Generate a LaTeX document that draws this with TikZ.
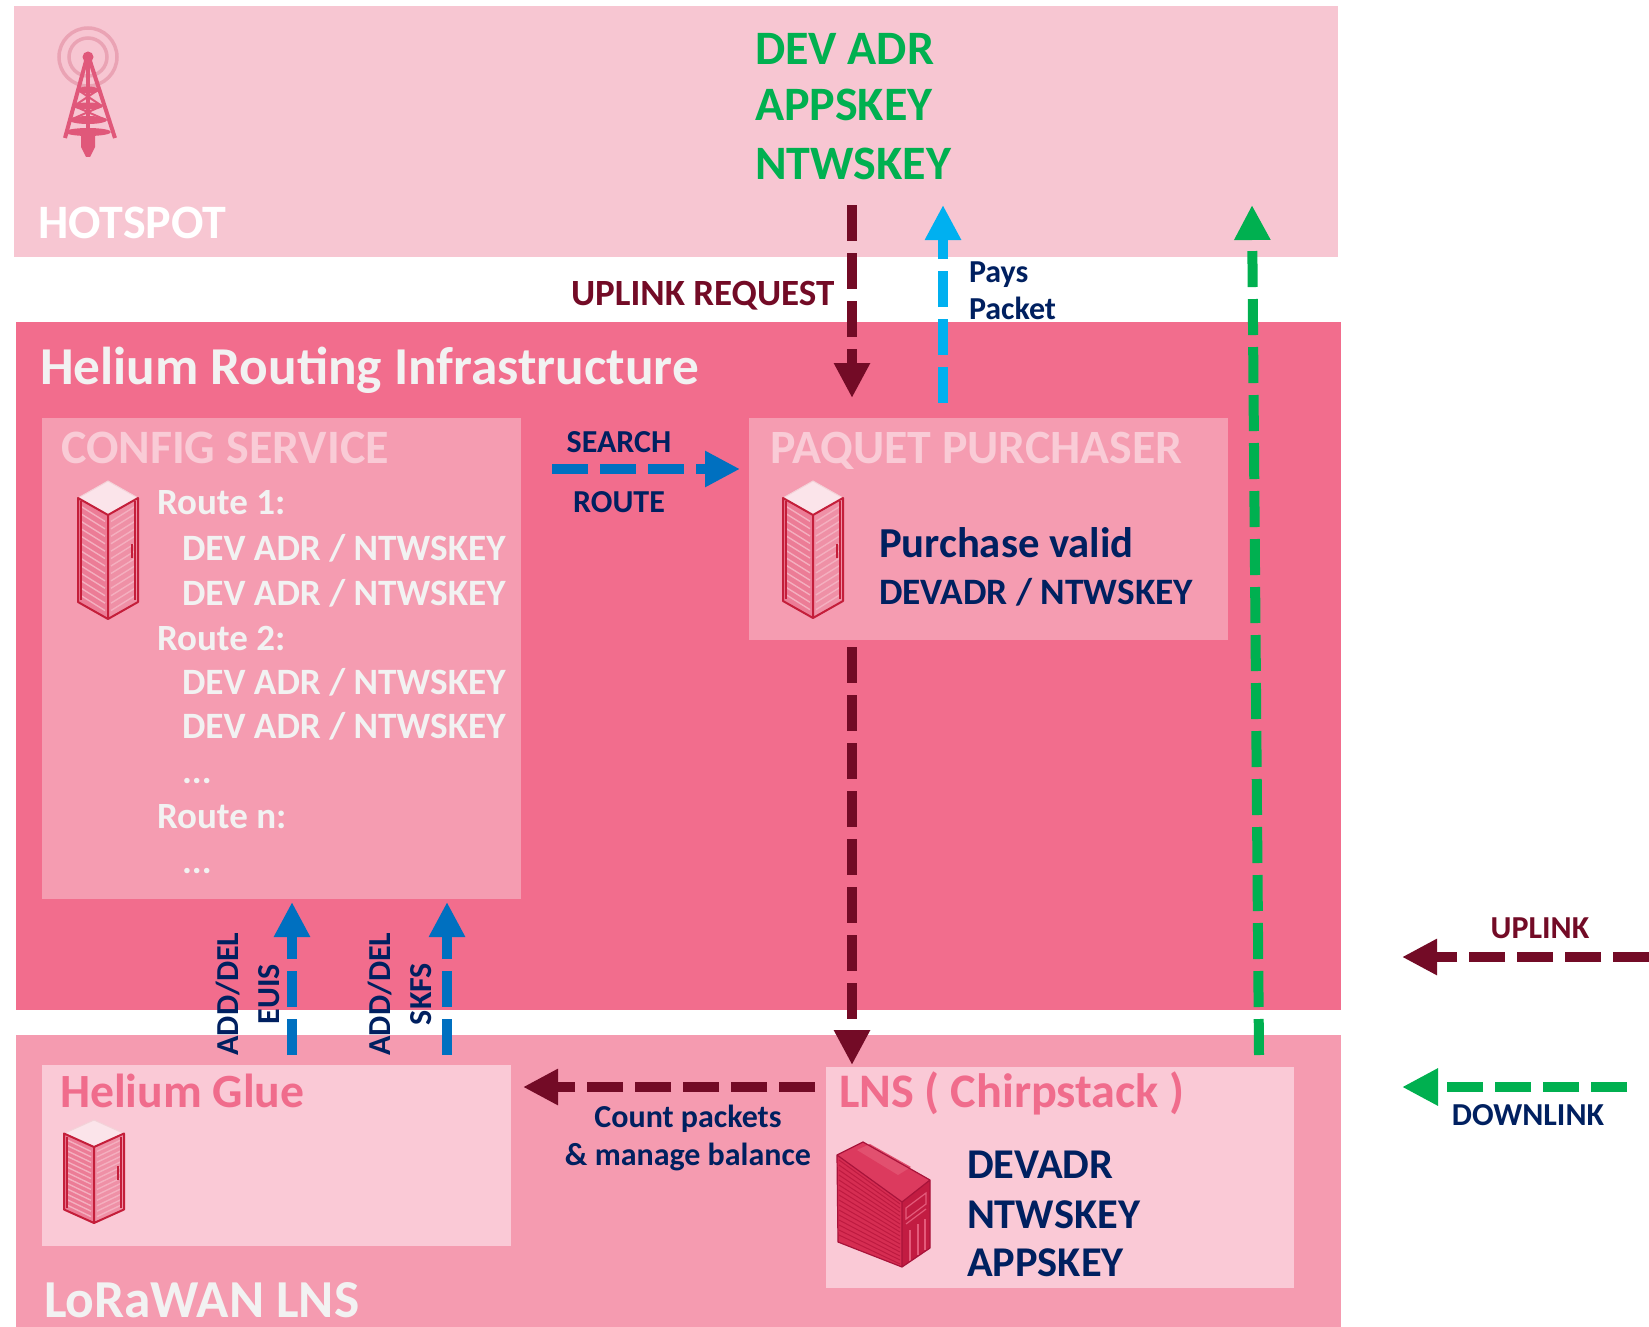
\documentclass[tikz,border=0pt]{standalone}
\usepackage{fontspec}
\setmainfont{Carlito}
\usetikzlibrary{arrows.meta}

\definecolor{hotbg}{HTML}{F7C6D2}
\definecolor{hribg}{HTML}{F26D8D}
\definecolor{lnsbg}{HTML}{F59BB0}
\definecolor{boxbg}{HTML}{F59CB1}
\definecolor{innerbg}{HTML}{FAC9D6}
\definecolor{ltitle}{HTML}{F9CBD6}
\definecolor{wtext}{HTML}{F2F2F2}
\definecolor{navy}{HTML}{002060}
\definecolor{wine}{HTML}{730B26}
\definecolor{grn}{HTML}{00B050}
\definecolor{blu}{HTML}{0070C0}
\definecolor{skyb}{HTML}{00B0F0}
\definecolor{pinktxt}{HTML}{F06C8C}
\definecolor{rackframe}{HTML}{C41E3A}
\definecolor{rackface}{HTML}{EC7C96}
\definecolor{rackvent}{HTML}{F4AFBF}
\definecolor{racktop}{HTML}{FBE4EA}
\definecolor{towerc}{HTML}{E0587A}
\definecolor{ringc}{HTML}{EAA3B4}
\definecolor{pcside}{HTML}{D62D52}
\definecolor{pcstripe}{HTML}{BE1A40}
\definecolor{pctop}{HTML}{DC3A5E}
\definecolor{pcpanel}{HTML}{E2506F}
\definecolor{pcfront}{HTML}{C21C42}
\definecolor{pcbay}{HTML}{E45A7A}
\definecolor{pcedge}{HTML}{A8133A}

\newcommand\txtsz[1]{\fontsize{#1}{#1}\selectfont\bfseries}

\tikzset{
  panel/.style={fill=#1, draw=none, anchor=north west, inner sep=0pt, outer sep=0pt},
  lbl/.style={anchor=base west, inner sep=0pt, outer sep=0pt},
  clbl/.style={anchor=base, inner sep=0pt, outer sep=0pt},
  vlbl/.style={rotate=90, align=center, navy, inner sep=0pt,
    font={\fontsize{32}{41}\selectfont\bfseries}},
  flow/.style={line width=10pt, dash pattern=on 36pt off 12pt,
    -{Triangle[width=34pt,length=35pt]}},
  % server rack: #1 depth of the top face, #2 height of the vertical edges
  pics/rack/.style 2 args={code={
    \fill[rackface] (-30,#1/2) -- (0,#1) -- (0,#1+#2) -- (-30,#1/2+#2) -- cycle;
    \fill[rackface!85!white] (0,#1) -- (30,#1/2) -- (30,#1/2+#2) -- (0,#1+#2) -- cycle;
    \foreach \k in {1,...,13}{
      \draw[rackvent, line width=1.4pt] (-27,{#1/2+\k*#2/14+1}) -- (-3,{#1+\k*#2/14-1});
      \draw[rackvent, line width=1.4pt] (3,{#1+\k*#2/14-1}) -- (27,{#1/2+\k*#2/14+1});
    }
    \fill[racktop, draw=white!80!rackframe, line width=1pt] (0,0) -- (30,#1/2) -- (0,#1) -- (-30,#1/2) -- cycle;
    \draw[rackframe, line width=2pt, line join=round]
      (-30,#1/2) -- (0,#1) -- (30,#1/2) -- (30,#1/2+#2) -- (0,#1+#2) -- (-30,#1/2+#2) -- cycle
      (0,#1) -- (0,#1+#2);
    \draw[rackframe, line width=1.4pt] (-27,#1/2+3) -- (-27,#1/2+#2-2) (27,#1/2+3) -- (27,#1/2+#2-2);
    \draw[rackframe, line width=2pt] (24,{#1/2+#2/2-6}) -- (24,{#1/2+#2/2+8});
  }},
  % radio mast
  pics/tower/.style={code={
    \draw[ringc, line width=3.5pt] (0,0) circle[radius=29];
    \draw[ringc, line width=3.5pt] (0,0) circle[radius=19];
    \draw[towerc, line width=4pt, line join=round] (-23,81) -- (-2,4) -- (2,4) -- (27,81);
    \draw[towerc, line width=3.5pt] (0,4) -- (0,80);
    \fill[towerc] (0,0) circle[radius=5.5];
    \fill[towerc] (0,33) ellipse[x radius=11, y radius=3.5];
    \fill[towerc] (0,49) ellipse[x radius=15, y radius=3.5];
    \fill[towerc] (0,63) ellipse[x radius=19, y radius=4];
    \fill[towerc] (0,75) ellipse[x radius=23, y radius=4];
    \draw[towerc, line width=2pt] (-10,33) -- (14,49) (10,33) -- (-14,49)
      (-14,49) -- (18,63) (14,49) -- (-18,63);
    \fill[towerc] (-7,76) -- (7,76) -- (7,90) -- (2,100) -- (-2,100) -- (-7,90) -- cycle;
  }},
  % desktop server unit
  pics/pctower/.style={code={
    \fill[pcside] (0,13) -- (65,60) -- (65,125) -- (1,100) -- cycle;
    \foreach \t in {5,10,...,80}{
      \draw[pcstripe, line width=1pt] (2,13+\t) -- (63,{58+\t*0.8});
    }
    \fill[pctop] (0,13) -- (26,0) -- (93,38) -- (65,60) -- cycle;
    \fill[pcpanel] (20,8) -- (33,2) -- (74,25) -- (61,33) -- cycle;
    \fill[pcfront] (65,60) -- (93,38) -- (93,106) -- (65,125) -- cycle;
    \draw[pcbay, line width=1.2pt] (69,66) -- (89,51) -- (89,62) -- (69,77) -- cycle
      (69,82) -- (89,67);
    \draw[pcbay, line width=1.5pt] (73,88) -- (73,119) (81,82) -- (81,113) (88,77) -- (88,108);
    \draw[pcedge, line width=1.2pt, line join=round]
      (0,13) -- (26,0) -- (93,38) -- (93,106) -- (65,125) -- (1,100) -- cycle
      (0,13) -- (65,60) -- (93,38) (65,60) -- (65,125);
  }},
}

\begin{document}
\begin{tikzpicture}[x=1pt,y=-1pt]
\useasboundingbox (0,0) rectangle (1649,1327);
\fill[white] (0,0) rectangle (1649,1327);

% ---- zones and boxes ----
\node[panel=hotbg, minimum width=1324pt, minimum height=251pt] (hotspot) at (14,6) {};
\node[panel=hribg, minimum width=1325pt, minimum height=688pt] (hri) at (16,322) {};
\node[panel=lnsbg, minimum width=1325pt, minimum height=292pt] (lorawan) at (16,1035) {};
\node[panel=boxbg, minimum width=479pt, minimum height=481pt] (config) at (42,418) {};
\node[panel=boxbg, minimum width=479pt, minimum height=222pt] (pp) at (749,418) {};
\node[panel=innerbg, minimum width=469pt, minimum height=181pt] (glue) at (42,1065) {};
\node[panel=innerbg, minimum width=468pt, minimum height=221pt] (lns) at (826,1067) {};

% ---- icons ----
\pic at (88,57) {tower};
\pic at (108,481) {rack={34}{104}};
\pic at (813,481) {rack={34}{103}};
\pic at (94,1120) {rack={27}{76}};
\pic at (837,1142) {pctower};

% ---- hotspot ----
\node[lbl, white] (hotspotlbl) at (38,238) {\txtsz{48}HOTSPOT};
\node[lbl, grn] (k1) at (755,65) {\txtsz{48}DEV ADR};
\node[lbl, grn] (k2) at (755,121) {\txtsz{48}APPSKEY};
\node[lbl, grn] (k3) at (755,179) {\txtsz{48}NTWSKEY};

\node[lbl, wine] (uplreq) at (571,305) {\txtsz{37}UPLINK REQUEST};
\node[lbl, navy] (pays) at (969,282) {\txtsz{32}Pays};
\node[lbl, navy] (packet) at (969,319) {\txtsz{32}Packet};

% ---- routing infrastructure ----
\node[lbl, wtext] (hrilbl) at (40,384) {\txtsz{53.3}Helium Routing Infrastructure};
\node[lbl, ltitle] (cfglbl) at (61,463) {\txtsz{48}CONFIG SERVICE};
\node[lbl, ltitle] (pplbl) at (770,463) {\txtsz{47.8}PAQUET PURCHASER};

\node[lbl, wtext] (r1) at (157,514) {\txtsz{37}Route 1:};
\node[lbl, wtext] (r1a) at (182,560) {\txtsz{37.2}DEV ADR / NTWSKEY};
\node[lbl, wtext] (r1b) at (182,605) {\txtsz{37.2}DEV ADR / NTWSKEY};
\node[lbl, wtext] (r2) at (157,650) {\txtsz{37}Route 2:};
\node[lbl, wtext] (r2a) at (182,694) {\txtsz{37.2}DEV ADR / NTWSKEY};
\node[lbl, wtext] (r2b) at (182,738) {\txtsz{37.2}DEV ADR / NTWSKEY};
\node[lbl, wtext] (rdots) at (182,783) {\txtsz{37}...};
\node[lbl, wtext] (rn) at (157,828) {\txtsz{37}Route n:};
\node[lbl, wtext] (rndots) at (182,873) {\txtsz{37}...};

\node[lbl, navy] (pvalid) at (879,557) {\txtsz{42.7}Purchase valid};
\node[lbl, navy] (pkeys) at (879,604) {\txtsz{37.3}DEVADR / NTWSKEY};

\node[clbl, navy] (search) at (619,452) {\txtsz{32}SEARCH};
\node[clbl, navy] (route) at (619,512) {\txtsz{32}ROUTE};

\node[vlbl] (euis) at (248,994) {ADD/DEL\\EUIS};
\node[vlbl] (skfs) at (400,994) {ADD/DEL\\SKFS};

% ---- LoRaWAN LNS ----
\node[lbl, pinktxt] (gluelbl) at (60,1107) {\txtsz{47.7}Helium Glue};
\node[lbl, pinktxt] (lnslbl) at (839,1107) {\txtsz{48.2}LNS ( Chirpstack )};
\node[lbl, wtext] (lorawanlbl) at (44,1317) {\txtsz{53.4}LoRaWAN LNS};
\node[lbl, navy] (lk1) at (967,1178) {\txtsz{42.4}DEVADR};
\node[lbl, navy] (lk2) at (967,1228) {\txtsz{42.4}NTWSKEY};
\node[lbl, navy] (lk3) at (967,1276) {\txtsz{42.4}APPSKEY};

\node[clbl, navy] (count) at (688,1127) {\txtsz{32}Count packets};
\node[clbl, navy] (balance) at (688,1165) {\txtsz{32}\& manage balance};

% ---- legend ----
\node[clbl, wine] (uplinklbl) at (1540,938) {\txtsz{32}UPLINK};
\node[clbl, navy] (downlinklbl) at (1528,1125) {\txtsz{32}DOWNLINK};

% ---- connector end points ----
\coordinate (urtop) at (852,205);
\coordinate (urbot) at (852,398);
\coordinate (paybot) at (943,403);
\coordinate (paytop) at (943,205);
\coordinate (dltop) at (1252,205);
\coordinate (dlbot) at (1259,1055);
\coordinate (srA) at (552,469);
\coordinate (srB) at (740,469);
\coordinate (ppout) at (852,647);
\coordinate (lnsin) at (852,1065);
\coordinate (lnsout) at (815,1087);
\coordinate (gluein) at (523,1087);
\coordinate (euA) at (292,1055);
\coordinate (euB) at (292,902);
\coordinate (skA) at (447,1055);
\coordinate (skB) at (447,902);
\coordinate (lgupA) at (1649,957);
\coordinate (lgupB) at (1402,957);
\coordinate (lgdnA) at (1627,1087);
\coordinate (lgdnB) at (1402,1087);

% ---- connectors ----
\draw[flow, wine] (urtop) -- (urbot);
\draw[flow, skyb] (paybot) -- (paytop);
\draw[flow, grn] (dlbot) -- (dltop);
\draw[flow, blu] (srA) -- (srB);
\draw[flow, wine] (ppout) -- (lnsin);
\draw[flow, wine] (lnsout) -- (gluein);
\draw[flow, blu] (euA) -- (euB);
\draw[flow, blu] (skA) -- (skB);
\draw[flow, wine] (lgupA) -- (lgupB);
\draw[flow, grn, -{Triangle[width=35pt,length=36pt]}] (lgdnA) -- (lgdnB);
\end{tikzpicture}
\end{document}
